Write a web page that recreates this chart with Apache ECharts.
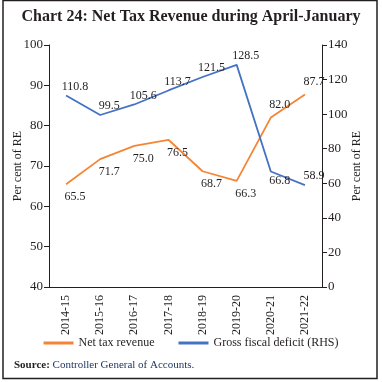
<!DOCTYPE html>
<html><head><meta charset="utf-8">
<script src="https://cdn.jsdelivr.net/npm/echarts@6/dist/echarts.min.js"></script>
<style>html,body{margin:0;padding:0;background:#fff}#c{width:382px;height:382px}</style>
</head><body><div id="c"></div>
<script>
const categories = ['2014-15','2015-16','2016-17','2017-18','2018-19','2019-20','2020-21','2021-22'];
const netTaxRevenue = [65.5, 71.7, 75.0, 76.5, 68.7, 66.3, 82.0, 87.7];
const grossFiscalDeficit = [110.8, 99.5, 105.6, 113.7, 121.5, 128.5, 66.8, 58.9];
const leftTicks = [40, 100, 10];
const rightTicks = [0, 140, 20];

const serif = '"Liberation Serif", "DejaVu Serif", serif';
const netPos = ['bottom','bottom','bottom','bottom','bottom','bottom','top','top'];
const gfdPos = ['top','top','top','top','top','top','bottom','top'];
function mk(vals, pos) {
  return vals.map((v, i) => ({ value: v, label: { position: pos[i] } }));
}
const chart = echarts.init(document.getElementById('c'));
chart.setOption({
  animation: false,
  title: {
    text: 'Chart 24: Net Tax Revenue during April-January',
    left: 'center', top: 4,
    textStyle: { fontFamily: serif, fontWeight: 'bold', fontSize: 16, color: '#231f20' }
  },
  graphic: [
    { type: 'rect', shape: { x: 3, y: 0.5, width: 374, height: 378 }, style: { fill: null, stroke: '#231f20', lineWidth: 1.5 } },
    { type: 'text', left: 14, top: 360, style: {
        text: '{b|Source:} Controller General of Accounts.',
        rich: { b: { fontWeight: 'bold', fontFamily: serif, fontSize: 11, fill: '#231f20' } },
        font: '11px ' + serif, fill: '#1f3763' } }
  ],
  legend: {
    bottom: 28, left: 'center',
    itemWidth: 30, itemHeight: 3, itemGap: 24, icon: 'rect',
    textStyle: { fontFamily: serif, fontSize: 12, color: '#231f20' },
    data: ['Net tax revenue', 'Gross fiscal deficit (RHS)']
  },
  grid: { left: 49, right: 60, top: 45, bottom: 95, containLabel: false, outerBoundsMode: 'none' },
  xAxis: {
    type: 'category', data: categories,
    axisLine: { lineStyle: { color: '#231f20', width: 1 } },
    axisTick: { alignWithLabel: false, length: 5, lineStyle: { color: '#231f20' } },
    axisLabel: { rotate: 90, fontFamily: serif, fontSize: 12, color: '#231f20', margin: 8, interval: 0 }
  },
  yAxis: [
    { type: 'value', min: leftTicks[0], max: leftTicks[1], interval: leftTicks[2],
      name: 'Per cent of RE', nameLocation: 'middle', nameGap: 25, nameRotate: 90, nameMoveOverlap: false,
      nameTextStyle: { fontFamily: serif, fontSize: 12, color: '#231f20' },
      axisLine: { show: true, lineStyle: { color: '#231f20' } },
      axisTick: { show: true, length: 5, lineStyle: { color: '#231f20' } },
      splitLine: { show: false },
      axisLabel: { fontFamily: serif, fontSize: 13, color: '#231f20', margin: 6 } },
    { type: 'value', min: rightTicks[0], max: rightTicks[1], interval: rightTicks[2], position: 'right',
      name: 'Per cent of RE', nameLocation: 'middle', nameGap: 29, nameRotate: 90, nameMoveOverlap: false,
      nameTextStyle: { fontFamily: serif, fontSize: 12, color: '#231f20' },
      axisLine: { show: true, lineStyle: { color: '#231f20' } },
      axisTick: { show: true, length: 5, lineStyle: { color: '#231f20' } },
      splitLine: { show: false },
      axisLabel: { fontFamily: serif, fontSize: 13, color: '#231f20', margin: 6 } }
  ],
  series: [
    { name: 'Net tax revenue', type: 'line', yAxisIndex: 0, symbol: 'circle', symbolSize: 0, showSymbol: true,
      data: mk(netTaxRevenue, netPos),
      lineStyle: { color: '#f58534', width: 1.8 }, itemStyle: { color: '#f58534' },
      label: { show: true, offset: [9, 0], distance: 7, formatter: p => p.value.toFixed(1),
        fontFamily: serif, fontSize: 12, color: '#231f20' } },
    { name: 'Gross fiscal deficit (RHS)', type: 'line', yAxisIndex: 1, symbol: 'circle', symbolSize: 0, showSymbol: true,
      data: mk(grossFiscalDeficit, gfdPos),
      lineStyle: { color: '#4472c4', width: 1.8 }, itemStyle: { color: '#4472c4' },
      label: { show: true, offset: [9, 0], distance: 3, formatter: p => p.value.toFixed(1),
        fontFamily: serif, fontSize: 12, color: '#231f20' } }
  ]
});
</script></body></html>
